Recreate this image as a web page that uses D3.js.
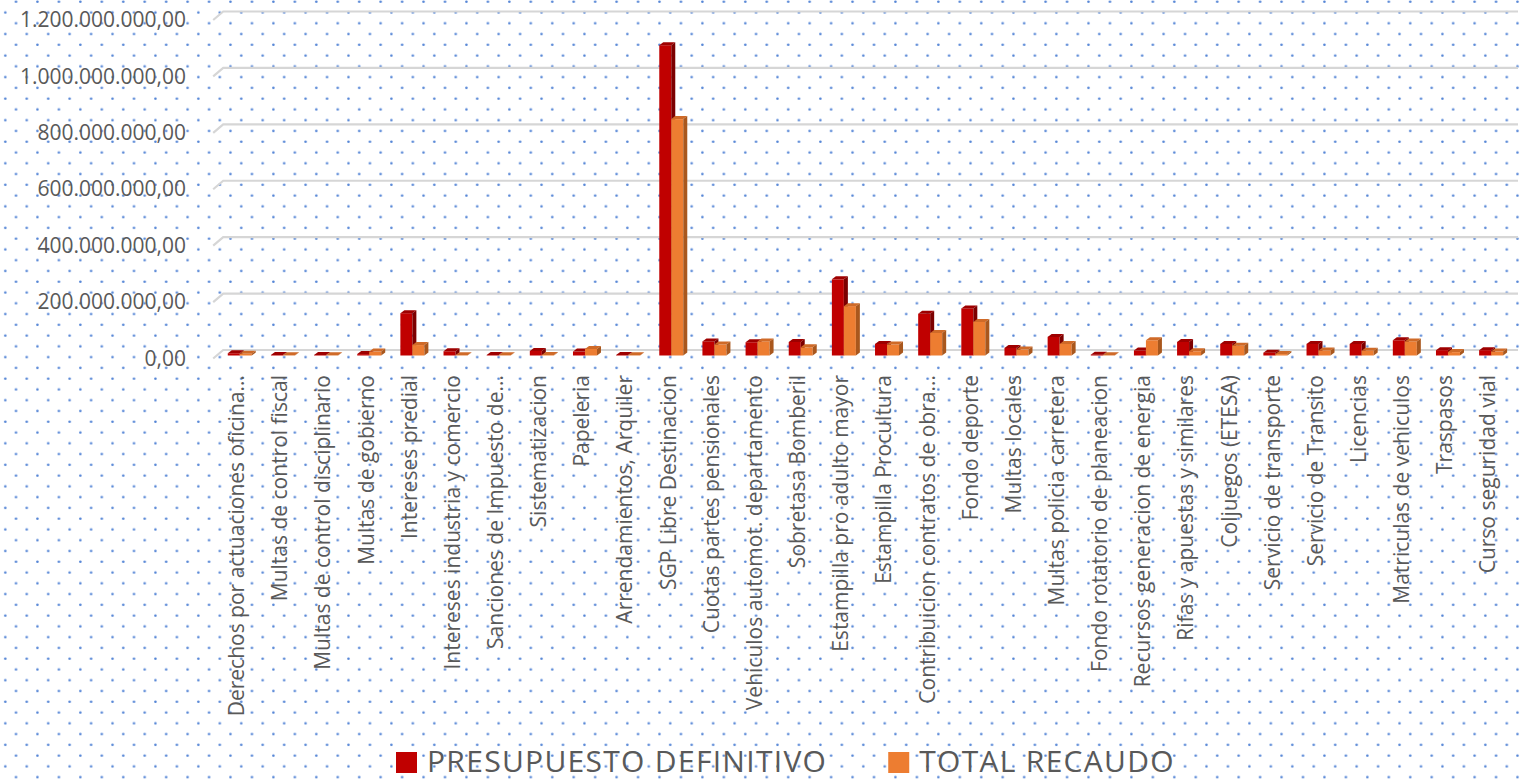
<!DOCTYPE html>
<html>
<head>
<meta charset="utf-8">
<script src="https://cdn.jsdelivr.net/npm/d3@7"></script>
<style>
  body { margin: 0; background: #fff; }
  svg { display: block; }
  text { font-family: "Open Sans", sans-serif; }
</style>
</head>
<body>
<svg id="chart" width="1526" height="781"></svg>
<script>
// categories and values (pesos)
var categories = [
  "Derechos por actuaciones oficina...", "Multas de control fiscal", "Multas de control disciplinario",
  "Multas de gobierno", "Intereses predial", "Intereses industria y comercio",
  "Sanciones de Impuesto  de...", "Sistematizacion", "Papeleria", "Arrendamientos, Arquiler",
  "SGP Libre Destinacion", "Cuotas partes pensionales", "Vehiculos automot. departamento",
  "Sobretasa Bomberil", "Estampilla pro adulto mayor", "Estampilla Procultura",
  "Contribuicion contratos de obra...", "Fondo deporte", "Multas locales",
  "Multas policia carretera", "Fondo rotatorio de planeacion", "Recursos generacion de energia",
  "Rifas y apuestas y similares", "Coljuegos (ETESA)", "Servicio de transporte",
  "Servicio de Transito", "Licencias", "Matriculas de vehiculos", "Traspasos", "Curso seguridad  vial"
];
var presupuesto = [
  8e6, 2e6, 2e6, 5e6, 150e6, 15e6, 2e6, 16e6, 14e6, 2e6,
  1100e6, 50e6, 47e6, 48e6, 270e6, 41e6, 148e6, 167e6, 27e6, 66e6,
  3e6, 18e6, 48e6, 41e6, 10e6, 41e6, 41e6, 54e6, 19e6, 19e6
];
var recaudo = [
  6e6, 1e6, 1e6, 14e6, 37e6, 1e6, 1e6, 2e6, 23e6, 1e6,
  838e6, 39e6, 50e6, 29e6, 175e6, 39e6, 80e6, 119e6, 21e6, 41e6,
  1e6, 54e6, 15e6, 35e6, 5e6, 18e6, 17e6, 50e6, 12e6, 14e6
];
var seriesNames = ["PRESUPUESTO DEFINITIVO", "TOTAL RECAUDO"];
var yTicks = [0, 2e8, 4e8, 6e8, 8e8, 10e8, 12e8];

var width = 1526, height = 781;
var svg = d3.select("#chart");

// dotted background
var defs = svg.append("defs");
var pat = defs.append("pattern")
  .attr("id", "dots")
  .attr("patternUnits", "userSpaceOnUse")
  .attr("width", 21.45)
  .attr("height", 21.54);
pat.append("circle").attr("cx", 16).attr("cy", 1.7).attr("r", 1.3).attr("fill", "#5585d6");
pat.append("circle").attr("cx", 5.3).attr("cy", 12.47).attr("r", 1.3).attr("fill", "#5585d6");
svg.append("rect").attr("width", width).attr("height", height).attr("fill", "url(#dots)");

var x = d3.scaleBand().domain(categories).range([215.2, 1509.7]);
var y = d3.scaleLinear().domain([0, 1.2e9]).range([358.5, 20]);
var inner = d3.scaleBand().domain([0, 1]).range([0, 24]);

var wall = { dx: 10, dy: -8.5 };   // depth of the floor / back wall
var col = { shift: 3, lift: 3, dx: 4, dy: -3 };

var fmt = d3.formatLocale({ decimal: ",", thousands: ".", grouping: [3], currency: ["", ""] }).format(",.2f");

// gridlines (drawn on the back wall with a diagonal at the left)
svg.append("g")
  .attr("class", "grid")
  .selectAll("path")
  .data(yTicks)
  .enter().append("path")
  .attr("d", function (d) {
    var x0 = x.range()[0] - 2;
    return "M" + x0 + "," + y(d) + "L" + (x0 + wall.dx) + "," + (y(d) + wall.dy) + "H1518";
  })
  .attr("fill", "none")
  .attr("stroke", "#d6d6d6")
  .attr("stroke-width", 2.2);

// y axis
svg.append("g")
  .attr("transform", "translate(186,0)")
  .call(d3.axisLeft(y).tickValues(yTicks).tickFormat(fmt).tickSize(0).tickPadding(0))
  .call(function (g) { g.select(".domain").remove(); })
  .attr("font-size", 21)
  .attr("font-family", null)
  .attr("color", "#595959");

// x axis labels, rotated
svg.append("g")
  .attr("transform", "translate(0,375)")
  .call(d3.axisBottom(x).tickSize(0).tickPadding(0))
  .call(function (g) { g.select(".domain").remove(); })
  .attr("font-size", 21)
  .attr("font-family", null)
  .attr("color", "#595959")
  .selectAll("text")
  .attr("transform", "rotate(-90)")
  .attr("x", 0)
  .attr("y", 0)
  .attr("dy", "0.35em")
  .attr("text-anchor", "end");

// 3D columns
var colors = [
  { front: "#C00000", top: "#9e0000", side: "#7c0000" },
  { front: "#ED7D31", top: "#cf6a28", side: "#a9571d" }
];
var rows = categories.map(function (c, i) {
  return { cat: c, values: [presupuesto[i], recaudo[i]] };
});

var groups = svg.append("g")
  .attr("class", "bars")
  .selectAll("g")
  .data(rows)
  .enter().append("g");

groups.each(function (d) {
  var g = d3.select(this);
  var c = x(d.cat) + x.bandwidth() / 2;
  var bw = inner.bandwidth();
  d.values.forEach(function (v, si) {
    var x0 = c + col.shift - bw + inner(si);
    var x1 = x0 + bw;
    var yb = y(0) - col.lift;
    var yt = y(v) - col.lift;
    var cl = colors[si];
    g.append("rect")
      .attr("x", x0).attr("y", yt)
      .attr("width", bw).attr("height", yb - yt)
      .attr("fill", cl.front);
    g.append("path")
      .attr("d", "M" + x0 + "," + yt + "L" + (x0 + col.dx) + "," + (yt + col.dy) +
        "L" + (x1 + col.dx) + "," + (yt + col.dy) + "L" + x1 + "," + yt + "Z")
      .attr("fill", cl.top);
    g.append("path")
      .attr("d", "M" + x1 + "," + yt + "L" + (x1 + col.dx) + "," + (yt + col.dy) +
        "L" + (x1 + col.dx) + "," + (yb + col.dy) + "L" + x1 + "," + yb + "Z")
      .attr("fill", cl.side);
  });
});

// legend
var legend = svg.append("g").attr("class", "legend");
var lx = 396;
seriesNames.forEach(function (name, i) {
  legend.append("rect")
    .attr("x", lx).attr("y", 752)
    .attr("width", 21).attr("height", 21)
    .attr("fill", colors[i].front);
  var t = legend.append("text")
    .attr("x", lx + 31).attr("y", 772)
    .attr("font-size", 30)
    .attr("letter-spacing", 1.3)
    .attr("fill", "#595959")
    .text(name);
  lx = lx + 31 + t.node().getComputedTextLength() + 61;
});
</script>
</body>
</html>
